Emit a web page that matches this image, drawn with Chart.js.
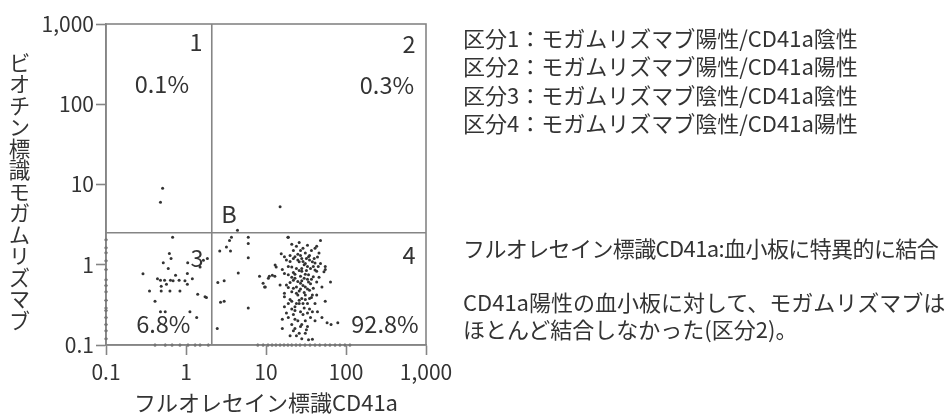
<!DOCTYPE html>
<html lang="ja">
<head>
<meta charset="utf-8">
<title>モガムリズマブ 血小板結合</title>
<script src="https://cdn.jsdelivr.net/npm/chart.js@4.4.1/dist/chart.umd.min.js"></script>
<style>
  html, body { margin: 0; padding: 0; background: #fff; }
  body { width: 945px; height: 414px; position: relative; overflow: hidden;
         font-family: "Noto Sans CJK JP", "Noto Sans", sans-serif; color: #333; }
  #plot { position: absolute; left: 0; top: 0; }
  .ytitle { position: absolute; left: 7px; top: 52px; font-size: 21.5px; line-height: 24px;
            writing-mode: vertical-rl; text-orientation: upright; }
  .xtitle { position: absolute; left: 134px; top: 386px; font-size: 22px; line-height: 30px; white-space: nowrap; }
  .note { position: absolute; left: 463px; font-size: 22px; white-space: nowrap; }
  .legend { top: 23px; line-height: 28.4px; }
  .cd41a { top: 232px; line-height: 30px; letter-spacing: -0.6px; }
  .result { top: 288px; line-height: 26.6px; }
</style>
</head>
<body>
<canvas id="plot" width="470" height="414"></canvas>
<div class="ytitle">ビオチン標識モガムリズマブ</div>
<div class="xtitle">フルオレセイン標識CD41a</div>
<div class="note legend">
  区分1：モガムリズマブ陽性/CD41a陰性<br>
  区分2：モガムリズマブ陽性/CD41a陽性<br>
  区分3：モガムリズマブ陰性/CD41a陰性<br>
  区分4：モガムリズマブ陰性/CD41a陽性
</div>
<div class="note cd41a">フルオレセイン標識CD41a:血小板に特異的に結合</div>
<div class="note result">CD41a陽性の血小板に対して、モガムリズマブは<br>ほとんど結合しなかった(区分2)。</div>

<script>
// axis ticks
const X_TICKS = [0.1, 1, 10, 100, 1000];
const X_TICK_LABELS = ['0.1', '1', '10', '100', '1,000'];
const Y_TICKS = [0.1, 1, 10, 100, 1000];
const Y_TICK_LABELS = ['0.1', '1', '10', '100', '1,000'];

// quadrant gates (CD41a, mogamulizumab)
const GATE_X = 2.1;
const GATE_Y = 2.5;

// events as [CD41a, mogamulizumab]
const q1Events = [[0.51, 9.0], [0.48, 6.0]];
const q2Events = [[15, 5.3], [4.4, 2.7]];

const q3Events = [
  [0.68, 2.2], [0.62, 1.38], [0.65, 1.2], [0.52, 1.06], [1.05, 1.06], [1.5, 0.94],
  [1.85, 1.2], [1.65, 1.14], [0.6, 0.9], [0.29, 0.77], [0.74, 0.74], [1.04, 0.78],
  [1.2, 0.67], [0.44, 0.67], [0.48, 0.64], [0.54, 0.64], [0.64, 0.64], [0.69, 0.63],
  [0.82, 0.64], [0.97, 0.63], [0.57, 0.57], [0.49, 0.54], [1.04, 0.57], [0.35, 0.47],
  [0.49, 0.47], [0.63, 0.47], [0.84, 0.47], [1.4, 0.43], [1.73, 0.4], [1.8, 0.39],
  [0.41, 0.35], [0.48, 0.26], [0.55, 0.26], [1.12, 0.26], [1.36, 0.22]
];

const q4Scattered = [
  [3.7, 2.2], [3.5, 2.0], [3.2, 1.66], [2.64, 1.48], [3.6, 1.48], [6.0, 2.2],
  [6.0, 1.84], [6.0, 1.22], [4.5, 0.79], [3.0, 0.63], [2.5, 0.6], [2.7, 0.34],
  [3.0, 0.35], [6.0, 0.29], [2.46, 0.16], [18.8, 2.2], [8.3, 0.72], [9.6, 0.53],
  [11, 0.72], [12.9, 0.72], [13.4, 0.94], [15.5, 1.37]
];

const q4Cluster = [
  [19, 2.2], [48, 2.0], [43, 1.7], [24, 1.7], [22, 1.5], [27, 1.5], [31, 1.4], [41, 1.6],
  [46, 1.4], [20, 1.3], [23, 1.26], [28, 1.2], [34, 1.26], [17, 1.26], [26, 1.09], [31, 1.04],
  [38, 1.09], [48, 1.04], [13, 0.99], [21, 0.94], [28, 0.9], [36, 0.9], [41, 0.86], [53, 0.82],
  [12, 0.74], [17, 0.78], [23, 0.76], [31, 0.76], [39, 0.71], [64, 0.61], [22, 0.64], [28, 0.63],
  [34, 0.61], [43, 0.61], [18, 0.56], [24, 0.53], [31, 0.53], [50, 0.53], [9.8, 0.53], [15, 0.56],
  [17, 0.44], [24, 0.44], [38, 0.42], [28, 0.38], [21, 0.35], [33, 0.33], [41, 0.33], [55, 0.35],
  [17, 0.3], [23, 0.3], [30, 0.29], [38, 0.26], [18, 0.25], [22, 0.24], [19, 0.22], [23, 0.21],
  [58, 0.19], [79, 0.19], [28, 0.18], [33, 0.17], [16, 0.16], [23, 0.16], [20, 0.13], [24, 0.13],
  [28, 0.12], [34, 0.116], [38, 0.118],
  [41, 1.05], [55, 0.95], [16, 0.87], [19, 0.75], [23, 0.68], [28, 0.83], [34, 0.75], [43, 0.83],
  [10.7, 0.68], [9.2, 0.59], [22, 0.51], [27, 0.59], [39, 0.51], [17, 0.4], [20, 0.37], [25, 0.42],
  [31, 0.37], [37, 0.39], [23, 0.27], [35, 0.28], [29, 0.24], [41, 0.2], [21, 0.18], [27, 0.17],
  [32, 0.155], [20, 1.1], [25, 1.35], [30, 1.0], [35, 1.3], [27, 0.72], [33, 0.66], [19, 0.95],
  [36, 0.58], [26, 0.47], [30, 0.45], [22, 0.8], [40, 1.2], [45, 0.95], [18, 1.15], [29, 1.6],
  [24, 0.9], [32, 0.85], [20, 0.6], [26, 0.33], [35, 0.48], [55, 0.87], [50, 0.22], [65, 0.18],
  [21, 1.8], [26, 1.9], [33, 1.75], [37, 1.5], [35, 1.15], [29, 1.1], [25, 1.15], [22, 1.2],
  [27, 1.3], [32, 1.2], [44, 1.25], [39, 0.95], [33, 0.95], [26, 0.85], [21, 0.7], [25, 0.62],
  [30, 0.68], [37, 0.66], [46, 0.7], [29, 0.55], [33, 0.5], [27, 0.5], [21, 0.46], [19, 0.52],
  [31, 0.42], [35, 0.38], [43, 0.42], [26, 0.36], [24, 0.33], [19, 0.33], [29, 0.33], [33, 0.25],
  [27, 0.26], [25, 0.2], [31, 0.2], [36, 0.22], [21, 0.28], [16, 0.21], [44, 0.26], [26, 0.14],
  [31, 0.14], [22, 0.15]
];

// events piled on the axis minimum (off-scale low)
const onYAxisEvents = [
  [0.1, 2.05], [0.1, 1.63], [0.1, 1.41], [0.1, 1.12], [0.1, 0.87], [0.1, 0.65], [0.1, 0.55],
  [0.1, 0.46], [0.1, 0.36], [0.1, 0.29], [0.1, 0.27], [0.1, 0.22], [0.1, 0.18], [0.1, 0.15], [0.1, 0.12]
];
const onXAxisEvents = [
  [0.41, 0.1], [0.55, 0.1], [0.67, 0.1], [0.84, 0.1], [1.06, 0.1], [1.3, 0.1], [1.5, 0.1], [1.9, 0.1],
  [7.9, 0.1], [9.2, 0.1], [10.6, 0.1], [11.9, 0.1], [13.3, 0.1], [15, 0.1], [16.8, 0.1], [18.8, 0.1],
  [21, 0.1], [23.7, 0.1], [26.6, 0.1], [30.7, 0.1], [35.5, 0.1], [41, 0.1], [47, 0.1], [55, 0.1],
  [63, 0.1], [73, 0.1], [84, 0.1], [97, 0.1], [112, 0.1]
];

// quadrant numbers and percentages, placed in data coordinates
const quadrantLabels = [
  { text: '1', x: 1.33, y: 600 },
  { text: '0.1%', x: 0.5, y: 180 },
  { text: '2', x: 613, y: 570 },
  { text: '0.3%', x: 325, y: 175 },
  { text: 'B', x: 3.45, y: 4.3 },
  { text: '3', x: 1.37, y: 1.22 },
  { text: '6.8%', x: 0.52, y: 0.18 },
  { text: '4', x: 613, y: 1.33 },
  { text: '92.8%', x: 307, y: 0.18 }
];

const FONT = '"Noto Sans CJK JP", "Noto Sans", sans-serif';
const INK = '#333';
const LINE = '#858585';

const toXY = arr => arr.map(p => ({ x: p[0], y: p[1] }));
const allEvents = [].concat(q1Events, q2Events, q3Events, q4Scattered, q4Cluster, onYAxisEvents, onXAxisEvents);

// frame on top and right plus quadrant text
const quadrantPlugin = {
    id: 'quadrantText',
    afterDatasetsDraw(chart) {
        const { ctx, chartArea, scales } = chart;
        ctx.save();
        ctx.strokeStyle = LINE;
        ctx.lineWidth = 1.6;
        ctx.strokeRect(chartArea.left, chartArea.top, chartArea.right - chartArea.left, chartArea.bottom - chartArea.top);
        ctx.fillStyle = INK;
        ctx.font = '23.5px ' + FONT;
        ctx.textAlign = 'center';
        ctx.textBaseline = 'middle';
        quadrantLabels.forEach(l => {
            ctx.fillText(l.text, scales.x.getPixelForValue(l.x), scales.y.getPixelForValue(l.y));
        });
        ctx.restore();
    }
};

function logAxis(ticks, labels, fit, padding) {
    return {
        type: 'logarithmic',
        min: 0.1,
        max: 1000,
        afterBuildTicks: scale => { scale.ticks = ticks.map(v => ({ value: v, major: true })); },
        afterFit: fit,
        ticks: {
            autoSkip: false,
            maxRotation: 0,
            padding: padding,
            color: INK,
            font: { family: FONT, size: 21 },
            callback: (value, index) => labels[index]
        },
        grid: { drawOnChartArea: false, drawTicks: true, tickLength: 10, tickWidth: 1.6, tickColor: LINE },
        border: { display: true, color: LINE, width: 1.6 }
    };
}

const ctx = document.getElementById('plot').getContext('2d');
new Chart(ctx, {
    type: 'scatter',
    data: {
        datasets: [
            {
                label: 'events',
                data: toXY(allEvents),
                pointRadius: 1.5,
                pointHoverRadius: 1.5,
                pointBackgroundColor: '#333',
                pointBorderWidth: 0,
                clip: false
            },
            {
                label: 'gate CD41a',
                type: 'line',
                data: [{ x: GATE_X, y: 0.1 }, { x: GATE_X, y: 1000 }],
                borderColor: LINE,
                borderWidth: 1.6,
                pointRadius: 0
            },
            {
                label: 'gate mogamulizumab',
                type: 'line',
                data: [{ x: 0.1, y: GATE_Y }, { x: 1000, y: GATE_Y }],
                borderColor: LINE,
                borderWidth: 1.6,
                pointRadius: 0
            }
        ]
    },
    options: {
        responsive: false,
        animation: false,
        devicePixelRatio: 1,
        layout: { padding: { top: 24, right: 44, left: 0, bottom: 0 } },
        plugins: {
            legend: { display: false },
            tooltip: { enabled: false },
            title: { display: false }
        },
        scales: {
            x: logAxis(X_TICKS, X_TICK_LABELS, s => { s.height = 69; s.paddingLeft = 0; s.paddingRight = 0; }, 4),
            y: logAxis(Y_TICKS, Y_TICK_LABELS, s => { s.width = 106; s.paddingTop = 0; s.paddingBottom = 0; }, 2)
        }
    },
    plugins: [quadrantPlugin]
});
</script>
</body>
</html>
